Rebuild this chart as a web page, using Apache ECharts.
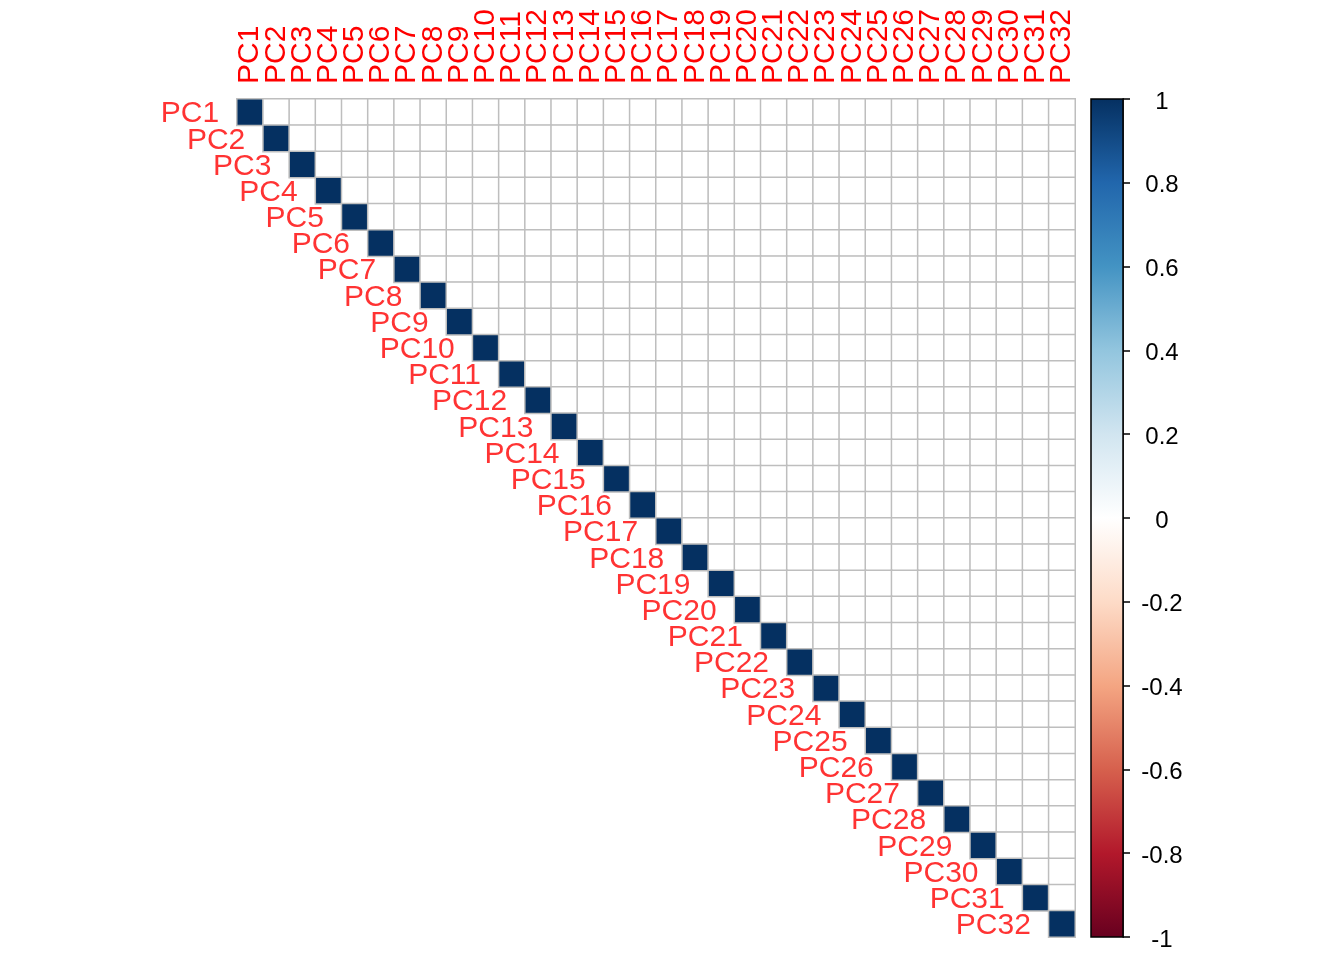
<!DOCTYPE html>
<html>
<head>
<meta charset="utf-8">
<script src="https://cdn.jsdelivr.net/npm/echarts@6/dist/echarts.min.js"></script>
<style>
  html, body { margin: 0; padding: 0; background: #fff; }
  #chart { width: 1344px; height: 960px; }
</style>
</head>
<body>
<div id="chart"></div>
<script>
// principal components (rows and columns of the correlation matrix)
const pcNames = ['PC1', 'PC2', 'PC3', 'PC4', 'PC5', 'PC6', 'PC7', 'PC8', 'PC9', 'PC10',
  'PC11', 'PC12', 'PC13', 'PC14', 'PC15', 'PC16', 'PC17', 'PC18', 'PC19', 'PC20',
  'PC21', 'PC22', 'PC23', 'PC24', 'PC25', 'PC26', 'PC27', 'PC28', 'PC29', 'PC30',
  'PC31', 'PC32'];

// diagonal of the matrix
const diagValues = [1, 1, 1, 1, 1, 1, 1, 1, 1, 1, 1, 1, 1, 1, 1, 1,
  1, 1, 1, 1, 1, 1, 1, 1, 1, 1, 1, 1, 1, 1, 1, 1];
// every cell above the diagonal is white, i.e. 0
const offDiagValue = 0;

// RdBu palette used for the colour scale, from -1 to 1
const corrColors = ['#67001F', '#B2182B', '#D6604D', '#F4A582', '#FDDBC7', '#FFFFFF',
  '#D1E5F0', '#92C5DE', '#4393C3', '#2166AC', '#053061'];

// upper triangle only
const cells = [];
for (let r = 0; r < pcNames.length; r++) {
  for (let c = r; c < pcNames.length; c++) {
    cells.push([c, r, r === c ? diagValues[r] : offDiagValue]);
  }
}

const labelFont = 'Liberation Sans, Arial, sans-serif';

const chart = echarts.init(document.getElementById('chart'));

chart.setOption({
  backgroundColor: '#ffffff',
  animation: false,
  grid: [
    { left: 237, top: 99, width: 838, height: 838 },
    { left: 1091, top: 99, width: 32, height: 838 }
  ],
  xAxis: [
    {
      type: 'category',
      gridIndex: 0,
      data: pcNames,
      position: 'top',
      axisLine: { show: false },
      axisTick: { show: false },
      splitLine: { show: false },
      axisLabel: {
        interval: 0,
        rotate: -90,
        margin: 15,
        color: '#FF0000',
        fontSize: 30,
        fontFamily: labelFont
      }
    },
    {
      type: 'category',
      gridIndex: 1,
      data: ['scale'],
      show: false
    }
  ],
  yAxis: [
    {
      type: 'category',
      gridIndex: 0,
      data: pcNames,
      inverse: true,
      show: false
    },
    {
      type: 'value',
      gridIndex: 1,
      min: -1,
      max: 1,
      interval: 0.2,
      position: 'right',
      axisLine: { show: true, lineStyle: { color: '#000', width: 1.5 } },
      axisTick: { show: true, length: 7, lineStyle: { color: '#000', width: 1.5 } },
      splitLine: { show: false },
      axisLabel: {
        margin: 39,
        align: 'center',
        verticalAlign: 'top',
        lineHeight: 6,
        color: '#000',
        fontSize: 24,
        fontFamily: labelFont,
        formatter: v => String(Math.round(v * 10) / 10)
      }
    }
  ],
  visualMap: {
    type: 'continuous',
    show: false,
    min: -1,
    max: 1,
    seriesIndex: 0,
    inRange: { color: corrColors }
  },
  series: [
    {
      type: 'heatmap',
      xAxisIndex: 0,
      yAxisIndex: 0,
      data: cells,
      silent: true,
      itemStyle: { borderColor: '#BEBEBE', borderWidth: 1.5 }
    },
    {
      // row labels sit next to the diagonal
      type: 'scatter',
      xAxisIndex: 0,
      yAxisIndex: 0,
      symbolSize: 0,
      silent: true,
      data: pcNames.map((n, i) => ({ name: n, value: [i, i] })),
      label: {
        show: true,
        position: 'left',
        distance: 31,
        offset: [0, 2],
        formatter: '{b}',
        color: '#FF0000',
        fontSize: 30,
        fontFamily: labelFont
      }
    },
    {
      // colour bar
      type: 'custom',
      xAxisIndex: 1,
      yAxisIndex: 1,
      silent: true,
      data: [[0, -1, 1]],
      renderItem: (params, api) => {
        const top = api.coord([0, api.value(2)]);
        const bottom = api.coord([0, api.value(1)]);
        const w = api.size([1, 0])[0];
        const stops = corrColors.slice().reverse().map((c, i) => ({
          offset: i / (corrColors.length - 1), color: c
        }));
        return {
          type: 'rect',
          shape: { x: top[0] - w / 2, y: top[1], width: w, height: bottom[1] - top[1] },
          style: {
            fill: new echarts.graphic.LinearGradient(0, 0, 0, 1, stops),
            stroke: '#000',
            lineWidth: 1.5
          }
        };
      }
    }
  ]
});
</script>
</body>
</html>
